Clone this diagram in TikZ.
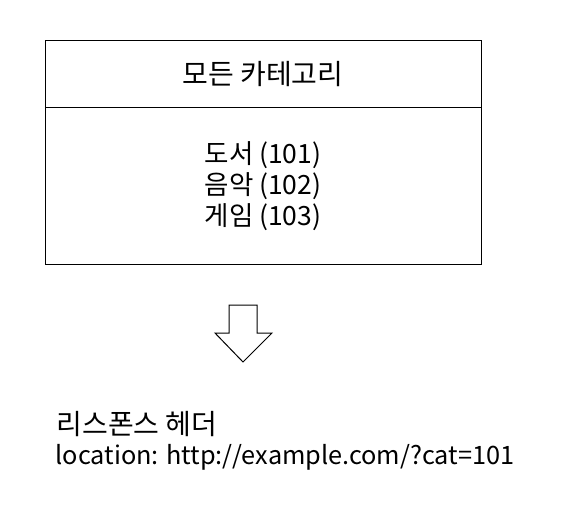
\documentclass[tikz,border=0pt]{standalone}
\usepackage{fontspec}
\setmainfont{Noto Sans CJK KR}
\begin{document}
\begin{tikzpicture}[x=1pt, y=-1pt, line width=1pt,
  font=\fontsize{28}{31}\selectfont]
  \useasboundingbox (0,0) rectangle (582,509);

  % Category box
  \draw (45,40) rectangle (481,264);
  \draw (45,107) -- (481,107);
  \node (title) at (263,74) {모든 카테고리};
  \node[align=center, font=\fontsize{26.5}{31}\selectfont] (items) at (263,186)
    {도서 (101)\\음악 (102)\\게임 (103)};

  % Down arrow
  \draw (229,305) -- (257,305) -- (257,333) -- (272,333)
    -- (243,362) -- (215,333) -- (229,333) -- cycle;

  % Response header
  \node[anchor=west, inner xsep=0pt] (resp) at (56,424) {리스폰스 헤더};
  \node[anchor=west, inner xsep=0pt, font=\fontsize{25.3}{31}\selectfont]
    (url) at (55,457) {location: http://example.com/?cat=101};

\end{tikzpicture}
\end{document}
